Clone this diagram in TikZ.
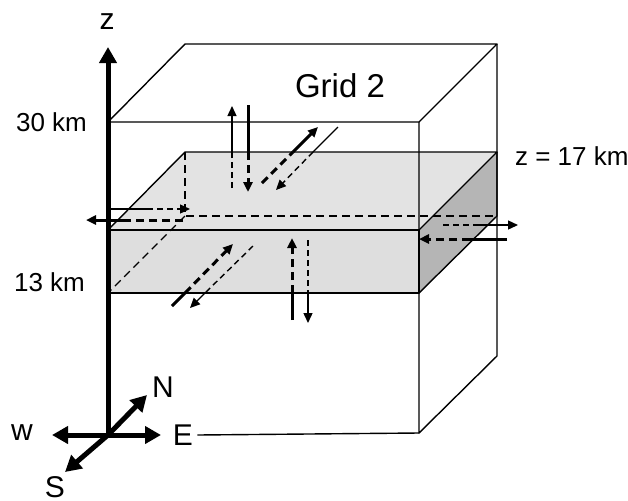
\documentclass[tikz,border=0pt]{standalone}
\usepackage{fontspec}
\setmainfont{Liberation Sans}
\usetikzlibrary{arrows.meta}
\definecolor{slabtop}{gray}{0.89}
\definecolor{slabfront}{gray}{0.87}
\definecolor{slabside}{gray}{0.71}

\begin{document}
\begin{tikzpicture}[x=0.5pt, y=-0.5pt, line join=round,
  edge/.style={line width=0.7pt},
  hidden/.style={line width=0.7pt, dash pattern=on 4pt off 2.5pt},
  bigflux/.style={line width=1.5pt},
  bigdash/.style={line width=1.5pt, dash pattern=on 4pt off 2.5pt},
  thinflux/.style={line width=0.7pt},
  thindash/.style={line width=0.7pt, dash pattern=on 3pt off 2pt},
  tip/.style={-{Triangle[length=5pt,width=4.5pt]}},
  axis/.style={line width=2.5pt, -{Triangle[length=8pt,width=8.5pt]}},
  lbl/.style={font=\fontsize{13}{15}\selectfont},
  dirlbl/.style={font=\fontsize{15}{17}\selectfont, inner sep=2pt}]

\useasboundingbox (0,0) rectangle (628,500);

%% ===================== corners =====================
% outer box (Grid 2)
\coordinate (fTL) at (108,122);
\coordinate (fTR) at (419,122);
\coordinate (bTL) at (185,44);
\coordinate (bTR) at (497,44);
\coordinate (bBR) at (497,356);
\coordinate (fBR) at (419,433);
% slab between 13 km and 17 km
\coordinate (sFL)  at (108,230);
\coordinate (sFR)  at (419,230);
\coordinate (sBL)  at (185,152);
\coordinate (sBR)  at (497,152);
\coordinate (sFLb) at (108,293);
\coordinate (sFRb) at (419,293);
\coordinate (sBLb) at (185,216);
\coordinate (sBRb) at (497,216);

%% ===================== slab =====================
\fill[slabtop] (sFL) -- (sBL) -- (sBR) -- (sFR) -- cycle;
\fill[slabfront] (sFL) rectangle (sFRb);
\fill[slabside] (sFR) -- (sBR) -- (sBRb) -- (sFRb) -- cycle;
\draw[hidden] (sBL) -- (sBLb) -- (sBRb);
\draw[hidden] (sBLb) -- (sFLb);
\draw[edge] (sFL) -- (sBL) -- (sBR) -- (sFR) -- cycle;
\draw[edge] (sFL) rectangle (sFRb);
\draw[edge] (sBR) -- (sBRb) -- (sFRb);

%% ===================== outer box =====================
\draw[edge] (fTL) -- (bTL) -- (bTR) -- (fTR) -- cycle;
\draw[edge] (bTR) -- (bBR) -- (fBR) -- (fTR);

%% ===================== exchange arrows =====================
% through the top face
\draw[thindash] (232,188) -- (232,152);
\draw[thinflux, tip] (232,152) -- (232,106);
\draw[bigflux] (248,105) -- (248,152);
\draw[bigdash, tip] (248,152) -- (248,192);
\draw[bigdash] (262,183) -- (293,152);
\draw[bigflux, tip] (293,152) -- (318,127);
\draw[thinflux] (338,127) -- (313,152);
\draw[thindash, tip] (313,152) -- (276,190);

% through the left (west) face
\draw[thinflux] (110,209) -- (147,209);
\draw[thindash, tip] (147,209) -- (190,209);
\draw[bigdash] (183,220) -- (128,220);
\draw[bigflux, tip] (128,220) -- (86,220);

% through the right (east) face
\draw[thindash] (443,225) -- (475,225);
\draw[thinflux, tip] (475,225) -- (518,225);
\draw[bigflux] (507,239) -- (470,239);
\draw[bigdash, tip] (470,239) -- (419,239);

% through the bottom face
\draw[bigflux] (172,306) -- (185,293);
\draw[bigdash, tip] (185,293) -- (233,244);
\draw[thindash] (253,246) -- (205,293);
\draw[thinflux, tip] (205,293) -- (190,308);
\draw[bigflux] (292,320) -- (292,293);
\draw[bigdash, tip] (292,293) -- (292,238);
\draw[thindash] (308,240) -- (308,293);
\draw[thinflux, tip] (308,293) -- (308,323);

%% ===================== axes and compass =====================
\coordinate (O) at (108,435);
\node[dirlbl] (zlbl) at (107,22) {z};
\node[dirlbl] (wlbl) at (22,433) {w};
\node[dirlbl] (elbl) at (183,435) {E};
\node[dirlbl] (nlbl) at (163,387) {N};
\node[dirlbl] (slbl) at (55,487) {S};
\draw[edge] (elbl.east) -- (fBR);
\draw[axis] (O) -- (108,47);
\draw[axis] (O) -- (52,435);
\draw[axis] (O) -- (161,435);
\draw[axis] (O) -- (147,395);
\draw[axis] (O) -- (65,472);

%% ===================== labels =====================
\node[lbl, anchor=east] (top) at (94,122) {30 km};
\node[lbl, anchor=east] (bot) at (92,282) {13 km};
\node[lbl, anchor=west] (mid) at (508,156) {z = 17 km};
\node[font=\fontsize{16.5}{19}\selectfont] (grid) at (340,86) {Grid 2};

\end{tikzpicture}
\end{document}
